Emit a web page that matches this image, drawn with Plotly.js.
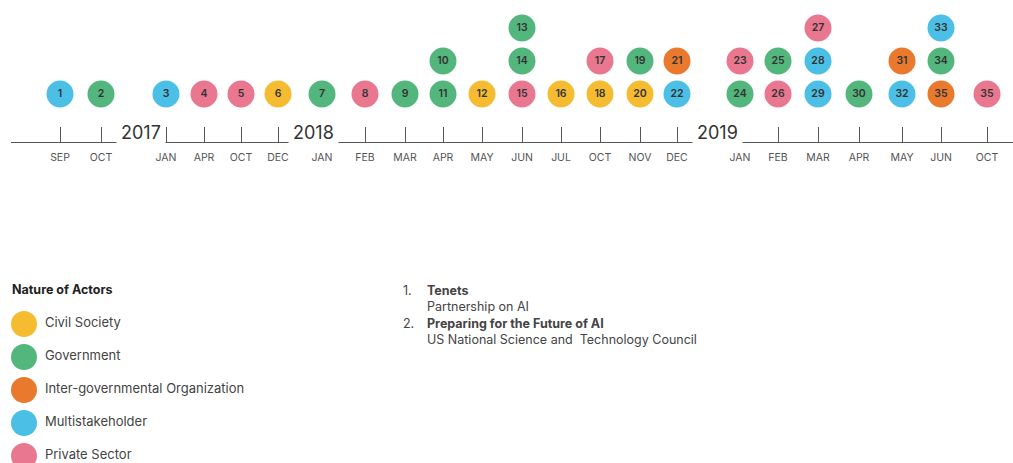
<!DOCTYPE html>
<html>
<head>
<meta charset="utf-8">
<script src="https://cdn.plot.ly/plotly-3.0.1.min.js"></script>
<style>html,body{margin:0;padding:0;background:#fff;}#chart{width:1013px;height:463px;}</style>
</head>
<body>
<div id="chart"></div>
<script>
// ---- data ----
const tickLabels = ['SEP','OCT','JAN','APR','OCT','DEC','JAN','FEB','MAR','APR','MAY','JUN','JUL','OCT','NOV','DEC','JAN','FEB','MAR','APR','MAY','JUN','OCT'];
const tickPos = [60,101,166,204,241,278,322,365,405,443,482,522,561,600,640,677,740,778,818,859,902,941,987];
const years = ['2017','2018','2019'];
const yearPos = [141,313,717];

const categories = ['Civil Society','Government','Inter-governmental Organization','Multistakeholder','Private Sector'];
const catColors = ['#F6BC31','#52B67D','#E9792D','#4CBFE6','#E9778F'];

const eventLabels = ['1','2','3','4','5','6','7','8','9','10','11','12','13','14','15','16','17','18','19','20','21','22','23','24','25','26','27','28','29','30','31','32','33','34','35','35'];
const eventSlot   = [0,1,2,3,4,5,6,7,8,9,9,10,11,11,11,12,13,13,14,14,15,15,16,16,17,17,18,18,18,19,20,20,21,21,21,22];
const eventCat    = [3,1,3,4,4,0,1,4,1,1,1,0,1,1,4,0,4,0,1,0,2,3,4,1,1,4,4,3,3,1,2,3,3,1,2,4];

const notesNum = ['1.','2.'];
const notesTitle = ['Tenets','Preparing for the Future of AI'];
const notesSub = ['Partnership on AI','US National Science and  Technology Council'];

// ---- build ----
const W = 1013, H = 463;
const FONT = 'Inter, "Noto Sans", sans-serif';
// stacking level: later events in same slot sit lower
const eventLevel = eventSlot.map((s, i) => eventSlot.slice(i + 1).filter(t => t === s).length);

const traces = [];
categories.forEach((c, ci) => {
  const idx = eventLabels.map((_, i) => i).filter(i => eventCat[i] === ci);
  traces.push({
    type: 'scatter', mode: 'markers+text', xaxis: 'x', yaxis: 'y',
    x: idx.map(i => tickPos[eventSlot[i]]),
    y: idx.map(i => eventLevel[i]),
    text: idx.map(i => eventLabels[i]),
    textposition: 'middle center',
    textfont: {family: FONT, size: 10.5, color: '#333', weight: 600},
    marker: {size: 27, color: catColors[ci], line: {width: 0}},
    hoverinfo: 'skip', showlegend: false, cliponaxis: false
  });
});
// legend swatches
traces.push({
  type: 'scatter', mode: 'markers+text', xaxis: 'x2', yaxis: 'y2',
  x: categories.map(() => 24), y: categories.map((_, i) => i),
  text: categories.map(c => '\u00a0' + c), textposition: 'middle right',
  textfont: {family: FONT, size: 13, color: '#444'},
  marker: {size: 26, color: catColors},
  hoverinfo: 'skip', showlegend: false, cliponaxis: false
});

const lineY = 142;
const mainBottom = 1 - lineY / H;
const annotations = [];
years.forEach((y, i) => annotations.push({
  text: y, x: yearPos[i], xref: 'x', y: mainBottom, yref: 'paper',
  xanchor: 'center', yanchor: 'bottom', yshift: -6, showarrow: false,
  bgcolor: '#fff', borderpad: 4,
  font: {family: FONT, size: 18, color: '#333'}
}));
annotations.push({
  text: '<b>Nature of Actors</b>', x: 10 / W, xref: 'paper', y: 1 - 289 / H, yref: 'paper',
  xanchor: 'left', yanchor: 'middle', showarrow: false,
  font: {family: FONT, size: 12.5, color: '#222'}
});
annotations.push({
  text: notesNum.join('<br><br>'), x: 401 / W, xref: 'paper', y: 1 - 281 / H, yref: 'paper',
  xanchor: 'left', yanchor: 'top', showarrow: false, align: 'left',
  font: {family: FONT, size: 12.5, color: '#444'}
});
annotations.push({
  text: notesTitle.map((t, i) => '<b>' + t + '</b><br>' + notesSub[i]).join('<br>'),
  x: 425 / W, xref: 'paper', y: 1 - 281 / H, yref: 'paper',
  xanchor: 'left', yanchor: 'top', showarrow: false, align: 'left',
  font: {family: FONT, size: 12.5, color: '#444'}
});

const layout = {
  width: W, height: H, margin: {l: 0, r: 0, t: 0, b: 0},
  paper_bgcolor: '#fff', plot_bgcolor: 'rgba(0,0,0,0)',
  showlegend: false,
  xaxis: {
    domain: [11 / W, 1], range: [11, W], showgrid: false, zeroline: false,
    showline: true, linecolor: '#555', linewidth: 1,
    tickmode: 'array', tickvals: tickPos, ticktext: tickLabels,
    ticks: 'inside', ticklen: 15, tickcolor: '#555', tickwidth: 1,
    tickfont: {family: FONT, size: 10.5, color: '#555'}, ticklabelstandoff: 5,
    fixedrange: true
  },
  yaxis: {
    domain: [mainBottom, 1], range: [-48 / 33, (lineY - 48) / 33],
    visible: false, fixedrange: true
  },
  xaxis2: {domain: [0, 400 / W], range: [0, 400], visible: false, anchor: 'y2', fixedrange: true},
  yaxis2: {domain: [0, 1 - 280 / H], range: [(463 - 324) / 33, (280 - 324) / 33], visible: false, anchor: 'x2', fixedrange: true},
  annotations: annotations,
  font: {family: FONT}
};

Plotly.newPlot('chart', traces, layout, {displayModeBar: false, staticPlot: true});
</script>
</body>
</html>
